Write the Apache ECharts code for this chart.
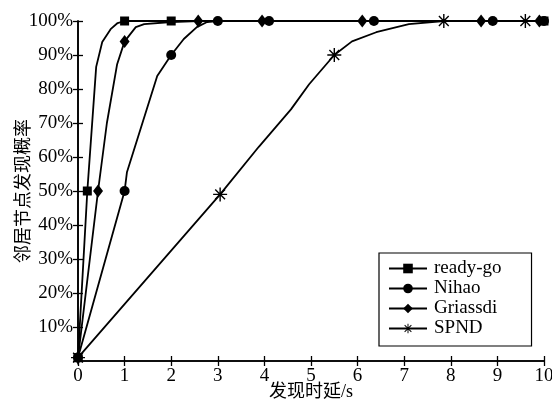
<!DOCTYPE html>
<html>
<head>
<meta charset="utf-8">
<script src="https://cdn.jsdelivr.net/npm/echarts@6/dist/echarts.min.js"></script>
<style>
    html, body { margin: 0; padding: 0; background: #fff; }
    #main { width: 552px; height: 404px; }
</style>
</head>
<body>
<div id="main"></div>
<script>
// 各曲线读数 (x: 发现时延/s, y: 发现概率), mark=1 表示画标记点
var readyGoX = [0, 0.2, 0.39, 0.52, 0.7, 0.85, 1, 2, 10];
var readyGoY = [0.01, 0.5, 0.865, 0.938, 0.976, 0.994, 1, 1, 1];
var readyGoMark = [1, 1, 0, 0, 0, 0, 1, 1, 1];

var nihaoX = [0, 1, 1.05, 1.7, 2, 2.27, 2.55, 2.77, 3, 4.1, 6.35, 8.9, 10];
var nihaoY = [0.01, 0.5, 0.555, 0.838, 0.9, 0.947, 0.982, 0.997, 1, 1, 1, 1, 1];
var nihaoMark = [1, 1, 0, 0, 1, 0, 0, 0, 1, 1, 1, 1, 1];

var griassdiX = [0, 0.43, 0.62, 0.84, 1, 1.24, 1.42, 2, 2.58, 3.95, 6.1, 8.65, 9.9];
var griassdiY = [0.01, 0.5, 0.7, 0.873, 0.94, 0.982, 0.991, 0.997, 1, 1, 1, 1, 1];
var griassdiMark = [1, 1, 0, 0, 1, 0, 0, 0, 1, 1, 1, 1, 1];

var spndX = [0, 3.05, 3.88, 4.57, 4.96, 5.5, 5.88, 6.4, 7.1, 7.85, 9.6, 10];
var spndY = [0.01, 0.49, 0.63, 0.74, 0.814, 0.9, 0.94, 0.967, 0.991, 1, 1, 1];
var spndMark = [1, 1, 0, 0, 0, 1, 0, 0, 0, 1, 1, 0];

var seriesNames = ['ready-go', 'Nihao', 'Griassdi', 'SPND'];
var xTicks = [0, 1, 2, 3, 4, 5, 6, 7, 8, 9, 10];

// 米字形标记 (*)
var starPath = 'path://M9 0L11 0L11 20L9 20Z M0 9L20 9L20 11L0 11Z ' +
    'M3.7 2.3L17.7 16.3L16.3 17.7L2.3 3.7Z M17.7 3.7L3.7 17.7L2.3 16.3L16.3 2.3Z';

var serifFont = '"Liberation Serif", "DejaVu Serif", "Noto Sans CJK SC", serif';

function buildData(xs, ys, marks) {
    var list = [];
    for (var i = 0; i < xs.length; i++) {
        var item = { value: [xs[i], ys[i]] };
        if (!marks[i]) {
            item.symbol = 'none';
        }
        list.push(item);
    }
    return list;
}

function makeSeries(name, xs, ys, marks, symbol, size) {
    return {
        name: name,
        type: 'line',
        data: buildData(xs, ys, marks),
        symbol: symbol,
        symbolSize: size,
        showAllSymbol: true,
        clip: false,
        smooth: false,
        lineStyle: { color: '#000', width: 1.8 },
        itemStyle: { color: '#000', borderColor: '#000', borderWidth: 0 },
        emphasis: { disabled: true },
        animation: false
    };
}

var chart = echarts.init(document.getElementById('main'));

var option = {
    animation: false,
    backgroundColor: '#fff',
    textStyle: { fontFamily: serifFont, color: '#000' },
    grid: { left: 78, right: 8, top: 21, bottom: 43, containLabel: false, outerBoundsMode: 'none' },
    legend: {
        orient: 'vertical',
        left: 379,
        top: 253,
        data: seriesNames,
        itemWidth: 38,
        itemHeight: 12,
        itemGap: 1,
        padding: [6, 30, 8, 9],
        borderColor: '#000',
        borderWidth: 1.2,
        backgroundColor: '#fff',
        selectedMode: false,
        textStyle: { fontFamily: serifFont, fontSize: 19, color: '#000', padding: [0, 0, 0, 2] }
    },
    xAxis: [{
        type: 'value',
        min: 0,
        max: 10,
        interval: 1,
        name: '发现时延/s',
        nameLocation: 'middle',
        nameGap: 22,
        nameMoveOverlap: false,
        nameTextStyle: { fontFamily: serifFont, fontSize: 18, color: '#000', verticalAlign: 'top' },
        axisLine: { lineStyle: { color: '#000', width: 1.6 } },
        axisTick: { inside: true, length: 5, lineStyle: { color: '#000', width: 1.3 } },
        axisLabel: {
            fontFamily: serifFont, fontSize: 19, color: '#000', margin: 6,
            formatter: function (v) { return xTicks.indexOf(v) >= 0 ? String(v) : ''; }
        },
        splitLine: { show: false }
    }, {
        type: 'value',
        position: 'top',
        min: 0,
        max: 10,
        interval: 1,
        axisLine: { lineStyle: { color: '#000', width: 1.6 } },
        axisTick: { inside: true, length: 5, lineStyle: { color: '#000', width: 1.3 } },
        axisLabel: { show: false },
        splitLine: { show: false }
    }],
    yAxis: [{
        type: 'value',
        min: 0,
        max: 1,
        interval: 0.1,
        name: '邻居节点发现概率',
        nameLocation: 'middle',
        nameGap: 45,
        nameMoveOverlap: false,
        nameTextStyle: { fontFamily: serifFont, fontSize: 18, color: '#000' },
        axisLine: { lineStyle: { color: '#000', width: 1.6 } },
        axisTick: { inside: true, length: 5, lineStyle: { color: '#000', width: 1.3 } },
        axisLabel: {
            fontFamily: serifFont, fontSize: 19, color: '#000', margin: 5,
            formatter: function (v) {
                if (v === 0) return '';
                return Math.round(v * 100) + '%';
            }
        },
        splitLine: { show: false }
    }, {
        type: 'value',
        position: 'right',
        min: 0,
        max: 1,
        interval: 0.1,
        axisLine: { lineStyle: { color: '#000', width: 1.6 } },
        axisTick: { inside: true, length: 5, lineStyle: { color: '#000', width: 1.3 } },
        axisLabel: { show: false },
        splitLine: { show: false }
    }],
    series: [
        makeSeries(seriesNames[0], readyGoX, readyGoY, readyGoMark, 'rect', 9),
        makeSeries(seriesNames[1], nihaoX, nihaoY, nihaoMark, 'circle', 10),
        makeSeries(seriesNames[2], griassdiX, griassdiY, griassdiMark, 'diamond', [10, 13]),
        makeSeries(seriesNames[3], spndX, spndY, spndMark, starPath, 14)
    ]
};

chart.setOption(option);
</script>
</body>
</html>
